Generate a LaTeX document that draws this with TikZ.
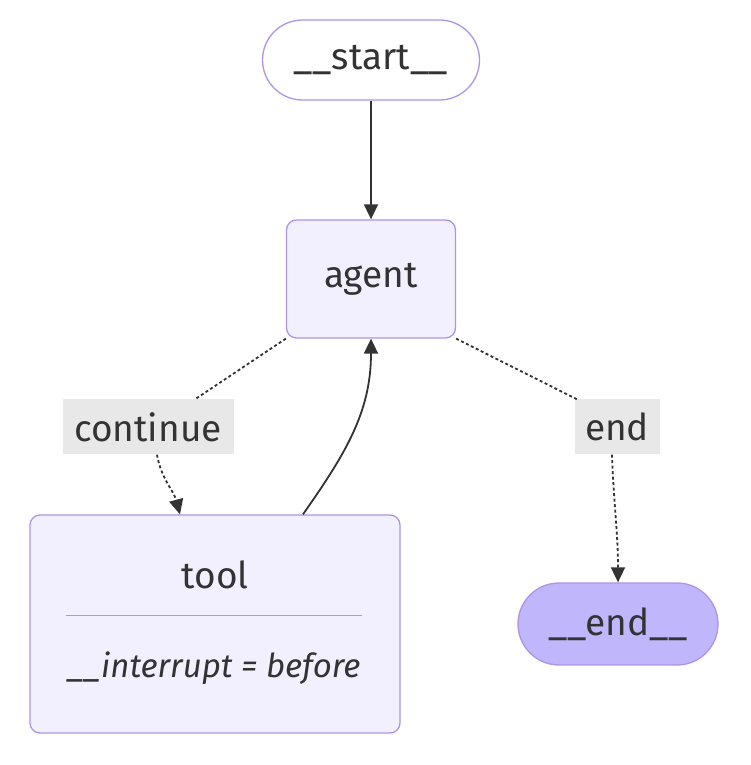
\documentclass[tikz,border=0pt]{standalone}
\usepackage{fontspec}
\setmainfont{Fira Sans}
\usetikzlibrary{arrows.meta}
\definecolor{nodefill}{HTML}{F2F0FF}
\definecolor{nodeline}{HTML}{9370DB}
\definecolor{lastfill}{HTML}{BFB6FC}
\definecolor{ink}{HTML}{333333}
\definecolor{lblfill}{HTML}{E8E8E8}

\begin{document}
\begin{tikzpicture}[x = 1pt, y = 1pt,
	box/.style = {draw = nodeline!75, line width = 1.3pt, fill = nodefill, rounded corners = 10pt, text = ink, inner sep = 0pt, font = \fontsize{37}{44}\selectfont},
	lbl/.style = {fill = lblfill, text = ink, inner sep = 0pt, minimum height = 55pt, font = \fontsize{37}{44}\selectfont},
	edge/.style = {ink, line width = 1.8pt, -{Triangle[length = 15pt, width = 14pt]}},
	cond/.style = {edge, dash pattern = on 3pt off 2.5pt}]
\useasboundingbox (0,0) rectangle (750,765);

% nodes
\node[box, rounded corners = 40pt, fill = white, minimum width = 217pt, minimum height = 80pt] (start) at (371,705) {\_\_start\_\_};
\node[box, minimum width = 169pt, minimum height = 118pt] (agent) at (371,486) {agent};
\node[box, minimum width = 370pt, minimum height = 218pt] (tool) at (215,141) {};
\node[text = ink, font = \fontsize{37}{44}\selectfont] (toolname) at (215,190) {tool};
\draw[black!35, line width = 1pt] (66,149) -- (362,149);
\node[text = ink, font = \fontsize{33}{40}\selectfont\itshape] (toolnote) at (214,97) {\_\_interrupt = before};
\node[box, rounded corners = 41pt, fill = lastfill, minimum width = 200pt, minimum height = 82pt] (end) at (618,141) {\_\_end\_\_};

% edge labels
\node[lbl, minimum width = 171pt] (cont) at (148,338) {continue};
\node[lbl, minimum width = 85pt] (stop) at (617,338) {end};

% edges
\draw[edge] (start) -- (agent);
\draw[cond, -] (agent.south west) -- ([xshift = 47pt]cont.north);
\draw[cond] ([xshift = 9pt]cont.south) to[out = -80, in = 105] ([xshift = -35pt]tool.north);
\draw[edge] ([xshift = 88pt]tool.north) to[out = 55, in = -90] (agent.south);
\draw[cond, -] (agent.south east) -- ([xshift = -40pt]stop.north);
\draw[cond] ([xshift = -5pt]stop.south) to[out = -88, in = 90] (end.north);
\end{tikzpicture}
\end{document}
